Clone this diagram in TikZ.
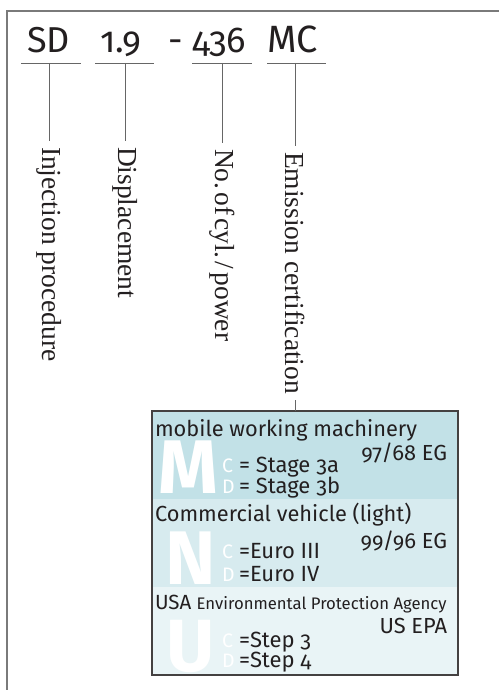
\documentclass[tikz,border=0pt]{standalone}
\usepackage{fontspec}
\setmainfont{Fira Sans}[Numbers=OldStyle]
\newfontfamily\labelserif{Liberation Serif}
\definecolor{secA}{HTML}{C2E1E7}
\definecolor{secB}{HTML}{D7EBEF}
\definecolor{secC}{HTML}{E9F4F6}
\definecolor{ink}{HTML}{231F20}
\definecolor{frameg}{HTML}{7A7A7A}
\definecolor{lineg}{HTML}{666666}
\begin{document}
\begin{tikzpicture}[x=1bp,y=-1bp,
  txt/.style={inner sep=0pt, outer sep=0pt, text=ink, anchor=base west},
  code/.style={txt, font=\fontsize{36bp}{40bp}\selectfont},
  vlabel/.style={rotate=-90, anchor=west, inner xsep=6bp, inner ysep=0pt, outer sep=0pt, text=ink, font=\labelserif\fontsize{27.5bp}{30bp}\selectfont},
  conn/.style={draw=lineg, line width=0.9bp},
  big/.style={inner sep=0pt, outer sep=0pt, anchor=base west, text=white, font=\fontsize{#1}{#1}\selectfont\bfseries},
  key/.style={inner sep=0pt, outer sep=0pt, anchor=base west, text=white, font=\fontsize{19.5bp}{22bp}\selectfont},
  item/.style={txt, font=\fontsize{22bp}{24bp}\selectfont},
  head/.style={txt, font=\fontsize{21.8bp}{24bp}\selectfont},
  norm/.style={inner sep=0pt, outer sep=0pt, anchor=base east, text=ink, font=\fontsize{21.8bp}{24bp}\selectfont},
]
\useasboundingbox (0,0) rectangle (499,690);
% outer frame
\draw[frameg, line width=1.3bp] (7,700) -- (7,11) -- (510,11);
% code
\node[code] (sd) at (27,53) {SD};
\node[code] (disp) at (100,53) {1.9};
\node[code] (dash) at (168,53) {-};
\node[code] (cyl) at (192,53) {436};
\node[code, font=\fontsize{38bp}{40bp}\selectfont] (mc) at (267,53) {MC};
% underlines
\draw[conn] (21,63) -- (81,63);
\draw[conn] (95,63) -- (154,63);
\draw[conn] (192,63) -- (252,63);
\draw[conn] (267,63) -- (326,63);
\coordinate (t1) at (49,63);
\coordinate (t2) at (125,63);
\coordinate (t3) at (222,63);
\coordinate (t4) at (295,63);
% labels
\node[vlabel] (l1) at (49,141) {Injection procedure};
\node[vlabel] (l2) at (125,141) {Displacement};
\node[vlabel] (l3) at (222,143) {No.\hspace{3bp}of\hspace{3bp}cyl.\hspace{3bp}/\hspace{3bp}power};
\node[vlabel] (l4) at (295,146) {Emission certification};
\draw[conn] (t1) -- (l1.west);
\draw[conn] (t2) -- (l2.west);
\draw[conn] (t3) -- (l3.west);
\draw[conn] (t4) -- (l4.west);
% box
\fill[secA] (152,411) rectangle (458,499);
\fill[secB] (152,499) rectangle (458,587);
\fill[secC] (152,587) rectangle (458,675);
\node[big=76bp] (bigM) at (158,493) {M};
\node[big=76bp] (bigN) at (165,584) {N};
\node[big=74bp] (bigU) at (166,671) {U};
\node[head] (mwm) at (155,436) {mobile working machinery};
\node[key] (mC) at (222,472) {C};
\node[item] (m3a) at (239,472) {= Stage 3a};
\node[key] (mD) at (222,493) {D};
\node[item] (m3b) at (239,493) {= Stage 3b};
\node[norm] (eg97) at (447,460) {97/68 EG};
\node[head] (cv) at (155,521) {Commercial vehicle (light)};
\node[key] (nC) at (222,558) {C};
\node[item] (n3) at (239,558) {=Euro III};
\node[key] (nD) at (222,581) {D};
\node[item] (n4) at (239,581) {=Euro IV};
\node[norm] (eg99) at (447,548) {99/96 EG};
\node[head, font=\fontsize{20.5bp}{24bp}\selectfont] (usa) at (155,609) {USA {\fontsize{16.7bp}{18bp}\selectfont Environmental Protection Agency}};
\node[key] (uC) at (222,647) {C};
\node[item] (u3) at (239,647) {=Step 3};
\node[key] (uD) at (222,667) {D};
\node[item] (u4) at (239,667) {=Step 4};
\node[norm] (epa) at (447,633) {US EPA};
\node[draw=ink!85, line width=1.3bp, minimum width=306bp, minimum height=264bp, anchor=north west, inner sep=0pt, outer sep=0pt] (box) at (152,411) {};
\draw[conn] (l4.east) -- (l4.east |- box.north);
\end{tikzpicture}
\end{document}
